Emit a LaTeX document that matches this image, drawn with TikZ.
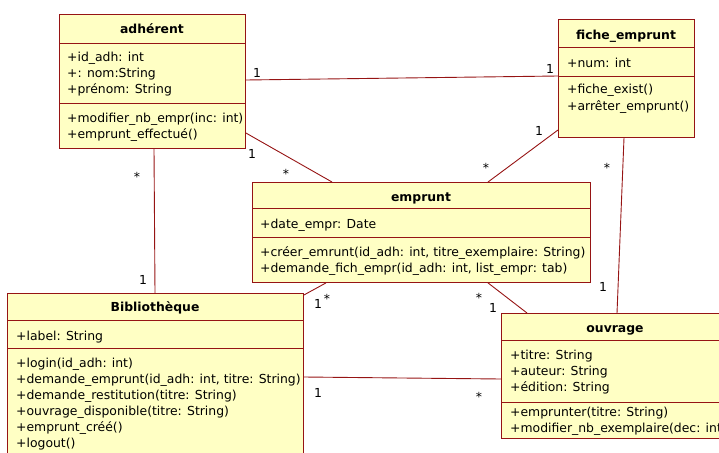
\documentclass[tikz,border=0pt]{standalone}
\usepackage{fontspec}
\setmainfont{DejaVu Sans}
\usetikzlibrary{calc}
\definecolor{umlfill}{RGB}{255,255,196}
\definecolor{umlline}{RGB}{150,20,20}
\begin{document}
\begin{tikzpicture}[x=1pt,y=-1pt,
  classbox/.style={draw=umlline, fill=umlfill, line width=0.9pt, anchor=north west, inner sep=0pt, rectangle},
  ctitle/.style={font=\fontsize{12.4}{15}\selectfont\bfseries, anchor=base, inner sep=0pt},
  member/.style={font=\fontsize{12.4}{15}\selectfont, anchor=base west, inner sep=0pt},
  sepline/.style={draw=umlline, line width=0.9pt},
  assoc/.style={draw=umlline, line width=0.9pt},
  mult/.style={font=\fontsize{12.4}{15}\selectfont, anchor=base, inner sep=0pt}
]
\useasboundingbox (0,0) rectangle (719,452);
\clip (0,0) rectangle (719,452);

% class boxes
\node[classbox, minimum width=186pt, minimum height=134pt] (adh) at (59,14) {};
\node[classbox, minimum width=136pt, minimum height=118pt] (fiche) at (558,19) {};
\node[classbox, minimum width=338pt, minimum height=100pt] (emp) at (252,182) {};
\node[classbox, minimum width=296pt, minimum height=170pt] (bib) at (7,293) {};
\node[classbox, minimum width=240pt, minimum height=125pt] (ouv) at (501,313) {};

% separators
\draw[sepline] ($(adh.north west)+(0,29)$) -- ($(adh.north east)+(0,29)$);
\draw[sepline] ($(adh.north west)+(0,89)$) -- ($(adh.north east)+(0,89)$);
\draw[sepline] ($(fiche.north west)+(0,28)$) -- ($(fiche.north east)+(0,28)$);
\draw[sepline] ($(fiche.north west)+(0,57)$) -- ($(fiche.north east)+(0,57)$);
\draw[sepline] ($(emp.north west)+(0,26)$) -- ($(emp.north east)+(0,26)$);
\draw[sepline] ($(emp.north west)+(0,55)$) -- ($(emp.north east)+(0,55)$);
\draw[sepline] ($(bib.north west)+(0,27)$) -- ($(bib.north east)+(0,27)$);
\draw[sepline] ($(bib.north west)+(0,55)$) -- ($(bib.north east)+(0,55)$);
\draw[sepline] ($(ouv.north west)+(0,27)$) -- ($(ouv.north east)+(0,27)$);
\draw[sepline] ($(ouv.north west)+(0,89)$) -- ($(ouv.north east)+(0,89)$);

% adherent
\node[ctitle] (adhT) at (152,33.5) {adhérent};
\node[member] (adhA1) at (67,62) {+id\_adh: int};
\node[member] (adhA2) at (67,77.5) {+: nom:String};
\node[member] (adhA3) at (67,93) {+prénom: String};
\node[member] (adhM1) at (67,122) {+modifier\_nb\_empr(inc: int)};
\node[member] (adhM2) at (67,138) {+emprunt\_effectué()};

% fiche_emprunt
\node[ctitle] (ficheT) at (626,39.5) {fiche\_emprunt};
\node[member] (ficheA1) at (567,67.5) {+num: int};
\node[member] (ficheM1) at (567,93.5) {+fiche\_exist()};
\node[member] (ficheM2) at (567,110.5) {+arrêter\_emprunt()};

% emprunt
\node[ctitle] (empT) at (421,201.5) {emprunt};
\node[member] (empA1) at (260,228.5) {+date\_empr: Date};
\node[member] (empM1) at (260,256.5) {+créer\_emrunt(id\_adh: int, titre\_exemplaire: String)};
\node[member] (empM2) at (260,272.5) {+demande\_fich\_empr(id\_adh: int, list\_empr: tab)};

% Bibliotheque
\node[ctitle] (bibT) at (155,311.5) {Bibliothèque};
\node[member] (bibA1) at (16,340) {+label: String};
\node[member] (bibM1) at (16,367.5) {+login(id\_adh: int)};
\node[member] (bibM2) at (16,383.5) {+demande\_emprunt(id\_adh: int, titre: String)};
\node[member] (bibM3) at (16,399.5) {+demande\_restitution(titre: String)};
\node[member] (bibM4) at (16,415.5) {+ouvrage\_disponible(titre: String)};
\node[member] (bibM5) at (16,431.5) {+emprunt\_créé()};
\node[member] (bibM6) at (16,447.5) {+logout()};

% ouvrage
\node[ctitle] (ouvT) at (615,332.5) {ouvrage};
\node[member] (ouvA1) at (510,359.5) {+titre: String};
\node[member] (ouvA2) at (510,375.5) {+auteur: String};
\node[member] (ouvA3) at (510,391.5) {+édition: String};
\node[member] (ouvM1) at (510,416.5) {+emprunter(titre: String)};
\node[member] (ouvM2) at (510,432.5) {+modifier\_nb\_exemplaire(dec: int)};

% associations
\draw[assoc] ($(adh.north east)+(0,66)$) -- ($(fiche.north west)+(0,57)$);
\draw[assoc] ($(adh.north east)+(0,119)$) -- ($(emp.north west)+(80,0)$);
\draw[assoc] ($(fiche.north west)+(0,111)$) -- ($(emp.north west)+(236,0)$);
\draw[assoc] ($(adh.south west)+(95,0)$) -- ($(bib.north west)+(148,0)$);
\draw[assoc] ($(fiche.south west)+(66,0)$) -- ($(ouv.north west)+(116,0)$);
\draw[assoc] ($(emp.south west)+(74,0)$) -- ($(bib.north east)+(0,2)$);
\draw[assoc] ($(emp.south west)+(236,0)$) -- ($(ouv.north west)+(26,0)$);
\draw[assoc] ($(bib.north east)+(0,84)$) -- ($(ouv.north west)+(0,66)$);

% multiplicities
\node[mult] (m1) at (257,77.5) {1};
\node[mult] (m2) at (550,73.5) {1};
\node[mult] (m3) at (252,158.5) {1};
\node[mult] (m4) at (286,178.3) {*};
\node[mult] (m5) at (539,135.5) {1};
\node[mult] (m6) at (486,172.3) {*};
\node[mult] (m7) at (137,181.3) {*};
\node[mult] (m8) at (143,284.5) {1};
\node[mult] (m9) at (607,172.3) {*};
\node[mult] (m10) at (603,291.5) {1};
\node[mult] (m11) at (318,308) {1};
\node[mult] (m12) at (327,303.5) {*};
\node[mult] (m13) at (479,302.3) {*};
\node[mult] (m14) at (493,312.5) {1};
\node[mult] (m15) at (318,397.5) {1};
\node[mult] (m16) at (479,401) {*};
\end{tikzpicture}
\end{document}
